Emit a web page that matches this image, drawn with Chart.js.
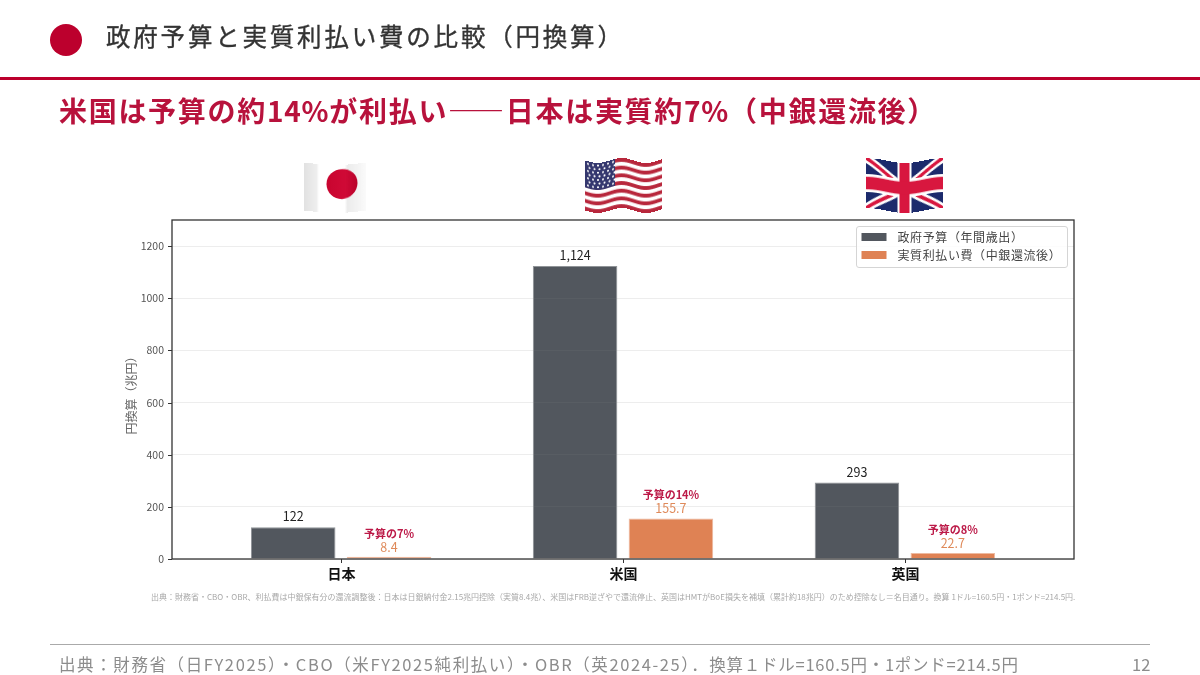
<!DOCTYPE html>
<html lang="ja">
<head>
<meta charset="utf-8">
<script src="https://cdn.jsdelivr.net/npm/chart.js@4/dist/chart.umd.min.js"></script>
<style>
  html, body { margin: 0; padding: 0; background: #fff; }
  body { width: 1200px; height: 675px; overflow: hidden; position: relative;
         font-family: "Noto Sans CJK JP", "Noto Sans", sans-serif; }
  #plot { position: absolute; left: 0; top: 0; width: 1200px; height: 675px; }
  .t { position: absolute; white-space: nowrap; line-height: 1; }
  #dot { position: absolute; left: 50px; top: 24px; width: 32px; height: 32px; border-radius: 50%; background: #bc002d; }
  #rule { position: absolute; left: 0; top: 77px; width: 1200px; height: 3px; background: #bc002d; }
  #title { left: 106px; top: 24px; font-size: 24.5px; letter-spacing: 2.8px; color: #333; -webkit-text-stroke: .35px #333; }
  #lead { left: 59px; top: 96px; font-size: 28px; font-weight: 700; letter-spacing: 1.7px; color: #b8123c; }
  #lead span { letter-spacing: .8px; }
  #note { left: 151px; top: 592.5px; font-size: 8px; color: #a8a8a8; }
  #foot-rule { position: absolute; left: 50px; top: 644px; width: 1100px; height: 1px; background: #aaa; }
  #foot { left: 59px; top: 655.5px; font-size: 16.5px; letter-spacing: 1.6px; color: #8c8c8c; }
  #foot span { letter-spacing: .75px; }
  #page { left: 1132px; top: 655.5px; font-size: 16.5px; color: #8c8c8c; }
</style>
</head>
<body>
<canvas id="plot" width="1200" height="675"></canvas>
<div id="dot"></div>
<div class="t" id="title">政府予算と実質利払い費の比較（円換算）</div>
<div id="rule"></div>
<div class="t" id="lead">米国は予算の約<span>14%</span>が利払い——日本は実質約<span>7%</span>（中銀還流後）</div>
<div class="t" id="note">出典：財務省・CBO・OBR、利払費は中銀保有分の還流調整後：日本は日銀納付金2.15兆円控除（実質8.4兆）、米国はFRB逆ざやで還流停止、英国はHMTがBoE損失を補填（累計約18兆円）のため控除なし＝名目通り。換算 1ドル=160.5円・1ポンド=214.5円.</div>
<div id="foot-rule"></div>
<div class="t" id="foot">出典：財務省（日FY2025）・CBO（米FY2025純利払い）・OBR（英2024-25）．<span>換算１ドル=160.5円・1ポンド=214.5円</span></div>
<div class="t" id="page">12</div>
<script>
const categories = ["日本", "米国", "英国"];
const budget = [122, 1124, 293];
const interest = [8.4, 155.7, 22.7];
const shareLabels = ["予算の7%", "予算の14%", "予算の8%"];
const seriesNames = ["政府予算（年間歳出）", "実質利払い費（中銀還流後）"];
const yTicks = [0, 200, 400, 600, 800, 1000, 1200];

const JP = '"Noto Sans CJK JP", "Noto Sans", sans-serif';
const DARK = "rgba(44,50,58,.82)", DARK_EDGE = "rgba(70,76,84,.6)";
const ORANGE = "rgba(216,103,46,.82)", ORANGE_EDGE = "rgba(216,103,46,.45)";

// Paints a flat flag into an offscreen canvas.
function flatFlag(kind, w, h) {
  const c = document.createElement("canvas");
  c.width = w; c.height = h;
  const g = c.getContext("2d");
  if (kind === "jp") {
    // White cloth with soft grey folds, disc on top.
    const fold = g.createLinearGradient(0, 0, w, 0);
    fold.addColorStop(0, "#e2e2e2");
    fold.addColorStop(.2, "#eeeeee");
    fold.addColorStop(.24, "#ffffff");
    fold.addColorStop(.66, "#ffffff");
    fold.addColorStop(.7, "#ececec");
    fold.addColorStop(.88, "#f4f4f4");
    fold.addColorStop(1, "#fbfbfb");
    g.fillStyle = fold; g.fillRect(0, 0, w, h);
    const disc = g.createLinearGradient(22, 0, 54, 0);
    disc.addColorStop(0, "#c8042f");
    disc.addColorStop(.6, "#d00a36");
    disc.addColorStop(1, "#b8022a");
    g.fillStyle = disc;
    g.beginPath(); g.ellipse(38, h * .4, 15.5, 15, 0, 0, 7); g.fill();
  } else if (kind === "us") {
    const s = h / 13;
    for (let i = 0; i < 13; i++) {
      g.fillStyle = i % 2 ? "#fff" : "#b8273c";
      g.fillRect(0, i * s, w, s + .5);
    }
    g.fillStyle = "#35386f"; g.fillRect(0, 0, w * .39, s * 7);
    g.fillStyle = "#fff";
    for (let r = 0; r < 7; r++) for (let k = 0; k < 6; k++) {
      g.beginPath();
      g.arc(3 + k * 5 + (r % 2) * 1.5, 2.6 + r * 3.6, 1.05, 0, 7);
      g.fill();
    }
  } else {
    g.fillStyle = "#1c2a6c"; g.fillRect(0, 0, w, h);
    g.lineCap = "butt";
    g.strokeStyle = "#fff"; g.lineWidth = h * .17;
    g.beginPath(); g.moveTo(0, 0); g.lineTo(w, h); g.moveTo(w, 0); g.lineTo(0, h); g.stroke();
    g.strokeStyle = "#d8173f"; g.lineWidth = h * .07;
    g.beginPath(); g.moveTo(0, 0); g.lineTo(w, h); g.moveTo(w, 0); g.lineTo(0, h); g.stroke();
    g.fillStyle = "#fff";
    g.fillRect(w * .5 - h * .14, 0, h * .28, h); g.fillRect(0, h * .32, w, h * .36);
    g.fillStyle = "#d8173f";
    g.fillRect(w * .5 - h * .1, 0, h * .2, h); g.fillRect(0, h * .375, w, h * .25);
  }
  return c;
}

// Copies the flat flag column by column along a sine wave so it reads as waving.
function drawWavingFlag(ctx, kind, x, y, w, h) {
  const src = flatFlag(kind, w, h - 5);
  const waves = kind === "us" ? 1.6 : kind === "uk" ? 1 : 0.5;
  const phase = kind === "uk" ? -Math.PI / 2 : 0;
  for (let i = 0; i < w; i++) {
    const dy = 2.5 * Math.sin(i / w * Math.PI * 2 * waves + phase);
    ctx.drawImage(src, i, 0, 1, h - 5, x + i, y + 2.5 + dy, 1, h - 5);
  }
}

const decorations = {
  id: "decorations",
  afterDraw(chart) {
    const { ctx, chartArea: a, scales: { x, y } } = chart;
    ctx.save();

    // Plot frame, ticks and axis texts.
    ctx.strokeStyle = "#333";
    ctx.lineWidth = 1.3;
    ctx.strokeRect(a.left, a.top, a.right - a.left, a.bottom - a.top);
    ctx.lineWidth = 1;
    ctx.fillStyle = "#555";
    ctx.font = `10.5px ${JP}`;
    ctx.textAlign = "right";
    ctx.textBaseline = "middle";
    yTicks.forEach(v => {
      const py = Math.round(y.getPixelForValue(v)) + .5;
      ctx.beginPath(); ctx.moveTo(a.left - 4, py); ctx.lineTo(a.left, py); ctx.stroke();
      ctx.fillText(String(v), a.left - 8, py);
    });
    ctx.fillStyle = "#111";
    ctx.font = `bold 14px ${JP}`;
    ctx.textAlign = "center";
    ctx.textBaseline = "alphabetic";
    categories.forEach((c, i) => {
      const px = Math.round(x.getPixelForValue(i)) + .5;
      ctx.beginPath(); ctx.moveTo(px, a.bottom); ctx.lineTo(px, a.bottom + 4); ctx.stroke();
      ctx.fillText(c, px, a.bottom + 20);
    });
    ctx.save();
    ctx.translate(131, (a.top + a.bottom) / 2 + 3);
    ctx.rotate(-Math.PI / 2);
    ctx.fillStyle = "#666";
    ctx.font = `12px ${JP}`;
    ctx.textBaseline = "middle";
    ctx.fillText("円換算（兆円）", 0, 0);
    ctx.restore();

    // Labels above the bars, read from the bar elements themselves.
    chart.getDatasetMeta(0).data.forEach((bar, i) => {
      ctx.font = `12.5px ${JP}`;
      ctx.fillStyle = "#222";
      ctx.fillText(budget[i].toLocaleString("en-US"), bar.x, bar.y - 6);
    });
    chart.getDatasetMeta(1).data.forEach((bar, i) => {
      ctx.font = `12.5px ${JP}`;
      ctx.fillStyle = "#df8a5a";
      ctx.fillText(interest[i].toFixed(1), bar.x, bar.y - 5);
      ctx.font = `bold 11px ${JP}`;
      ctx.fillStyle = "#bc1a48";
      ctx.fillText(shareLabels[i], bar.x, bar.y - 19);
    });

    // Legend box in the upper right of the plot.
    const lx = 856.5, ly = 226.5, lw = 211, lh = 41;
    ctx.fillStyle = "rgba(255,255,255,.85)";
    ctx.strokeStyle = "#d5d5d5";
    ctx.lineWidth = 1;
    ctx.beginPath(); ctx.roundRect(lx, ly, lw, lh, 2.5); ctx.fill(); ctx.stroke();
    ctx.textAlign = "left";
    ctx.textBaseline = "middle";
    ctx.font = `12px ${JP}`;
    ctx.letterSpacing = "0.6px";
    chart.data.datasets.forEach((d, i) => {
      const rowY = 237 + i * 18;
      ctx.fillStyle = d.backgroundColor;
      ctx.fillRect(lx + 5, rowY - 4, 25, 8);
      ctx.fillStyle = "#444";
      ctx.fillText(d.label, lx + 41, rowY);
    });
    ctx.letterSpacing = "0px";

    // Country flags above the plot.
    drawWavingFlag(ctx, "jp", 304, 160, 62, 53);
    drawWavingFlag(ctx, "us", 585, 158, 77, 55);
    drawWavingFlag(ctx, "uk", 866, 158, 77, 55);
    ctx.restore();
  }
};

new Chart(document.getElementById("plot"), {
  type: "bar",
  data: {
    datasets: [
      { label: seriesNames[0], data: budget.map((y, x) => ({ x, y })),
        backgroundColor: DARK, borderColor: DARK_EDGE, borderWidth: 1 },
      { label: seriesNames[1], data: interest.map((y, x) => ({ x, y })),
        backgroundColor: ORANGE, borderColor: ORANGE_EDGE, borderWidth: 1 }
    ]
  },
  options: {
    responsive: false,
    animation: false,
    events: [],
    layout: { padding: { left: 172, top: 220, right: 126, bottom: 116 } },
    plugins: { legend: { display: false }, tooltip: { enabled: false } },
    datasets: { bar: { categoryPercentage: 0.68, barPercentage: 0.882 } },
    scales: {
      x: {
        type: "linear", min: -0.6, max: 2.6, offset: false,
        afterBuildTicks: s => { s.ticks = categories.map((_, i) => ({ value: i })); },
        afterFit: s => { s.height = 0; },
        grid: { display: false },
        border: { display: false },
        ticks: { display: false }
      },
      y: {
        min: 0, max: 1300,
        afterBuildTicks: s => { s.ticks = yTicks.map(value => ({ value })); },
        afterFit: s => { s.width = 0; },
        // Faint grid over the translucent bars.
        grid: { color: "rgba(128,128,128,.14)", lineWidth: 1, drawTicks: false, z: 1 },
        border: { display: false },
        ticks: { display: false }
      }
    }
  },
  plugins: [decorations]
});
</script>
</body>
</html>
